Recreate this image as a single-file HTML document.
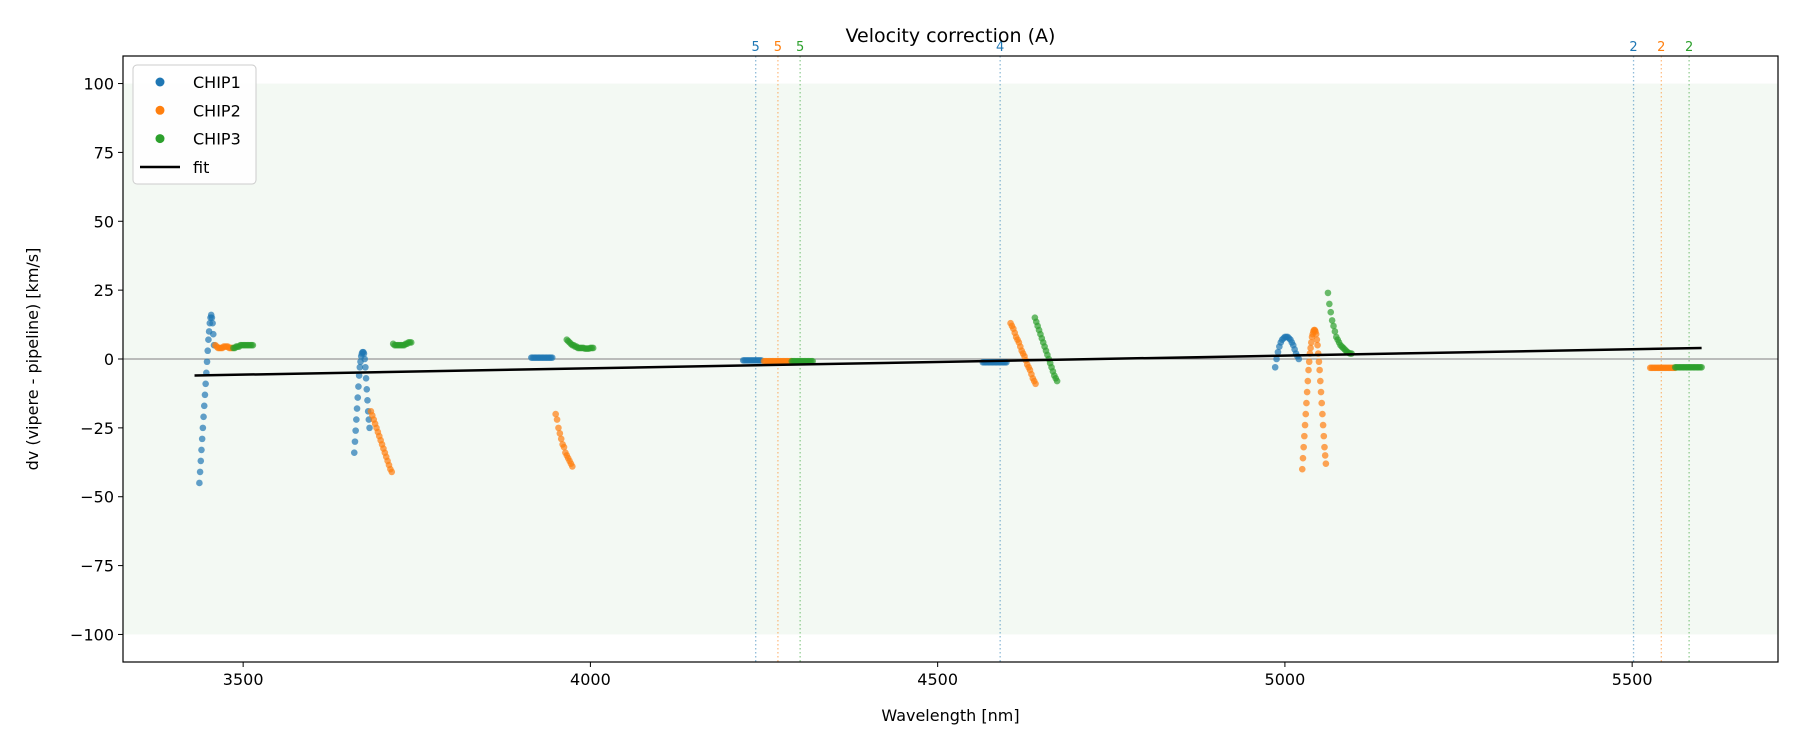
<!DOCTYPE html>
<html><head><meta charset="utf-8">
<style>
body{margin:0;background:#fff;}
svg{display:block;font-family:"DejaVu Sans","Liberation Sans",sans-serif;}
</style></head>
<body>
<svg id="chart" width="1800" height="750" viewBox="0 0 1800 750"></svg>
<script>
const xTicks=[3500,4000,4500,5000,5500];
const yTicks=[-100,-75,-50,-25,0,25,50,75,100];
const yTickLabels=["−100","−75","−50","−25","0","25","50","75","100"];
const colors=["#1f77b4","#ff7f0e","#2ca02c"];
const seriesNames=["CHIP1","CHIP2","CHIP3"];
// segments: chip index, wavelengths, dv
const segChip=[0,1,2, 0,1,2, 0,1,2, 0,1,2, 0,1,2, 0,1,2, 1,2];
const segWl=[
[3437,3438,3439,3440,3441,3442,3443,3444,3445,3446,3447,3448,3449,3450,3451,3452,3453,3454,3455,3456,3457,3458],
[3460,3462,3464,3466,3468,3470,3472,3474,3476,3478,3480,3482,3484],
[3486,3488,3490,3492,3494,3496,3498,3500,3502,3504,3506,3508,3510,3512,3514],
[3660,3661,3662,3663,3664,3665,3666,3667,3668,3669,3670,3671,3672,3673,3674,3675,3676,3677,3678,3679,3680,3681,3682],
[3684,3686,3688,3690,3692,3694,3696,3698,3700,3702,3704,3706,3708,3710,3712,3714],
[3716,3718,3720,3722,3724,3726,3728,3730,3732,3734,3736,3738,3740,3742],
[3915,3917,3919,3921,3923,3925,3927,3929,3931,3933,3935,3937,3939,3941,3943,3945],
[3950,3952,3954,3956,3958,3960,3962,3964,3966,3968,3970,3972,3974],
[3966,3968,3970,3972,3974,3976,3978,3980,3982,3984,3986,3988,3990,3992,3994,3996,3998,4000,4002,4004],
[4220,4222,4224,4226,4228,4230,4232,4234,4236,4238,4240,4242,4244,4246],
[4250,4252,4254,4256,4258,4260,4262,4264,4266,4268,4270,4272,4274,4276,4278,4280,4282,4284,4286,4288,4290],
[4290,4292,4294,4296,4298,4300,4302,4304,4306,4308,4310,4312,4314,4316,4318,4320],
[4565,4567,4569,4571,4573,4575,4577,4579,4581,4583,4585,4587,4589,4591,4593,4595,4597,4599],
[4605,4607,4609,4611,4613,4615,4617,4619,4621,4623,4625,4627,4629,4631,4633,4635,4637,4639,4641],
[4640,4642,4644,4646,4648,4650,4652,4654,4656,4658,4660,4662,4664,4666,4668,4670,4672],
[4986,4988,4990,4992,4994,4996,4998,5000,5002,5004,5006,5008,5010,5012,5014,5016,5018,5020],
[5025,5026,5027,5028,5029,5030,5031,5032,5033,5034,5035,5036,5037,5038,5039,5040,5041,5042,5043,5044,5045,5046,5047,5048,5049,5050,5051,5052,5053,5054,5055,5056,5057,5058,5059],
[5062,5064,5066,5068,5070,5072,5074,5076,5078,5080,5082,5084,5086,5088,5090,5092,5094,5096],
[5526,5528,5530,5532,5534,5536,5538,5540,5542,5544,5546,5548,5550,5552,5554,5556,5558,5560,5562],
[5562,5564,5566,5568,5570,5572,5574,5576,5578,5580,5582,5584,5586,5588,5590,5592,5594,5596,5598,5600]
];
const segDv=[
[-45,-41,-37,-33,-29,-25,-21,-17,-13,-9,-5,-1,3,7,10,13,15,16,15,13,9,5],
[5,4.5,4,4,4,4,4.5,4.5,4.5,4.5,4,4,4],
[4,4,4.5,4.5,4.5,5,5,5,5,5,5,5,5,5,5],
[-34,-30,-26,-22,-18,-14,-10,-6,-3,-1,1,2,2.5,2.5,2,0,-3,-7,-11,-15,-19,-22,-25],
[-19,-20.5,-22,-23.5,-25,-26.5,-28,-29.5,-31,-32.5,-34,-35.5,-37,-38.5,-40,-41],
[5.5,5,5,5,5,5,5,5,5,5.5,5.5,6,6,6],
[0.5,0.5,0.5,0.5,0.5,0.5,0.5,0.5,0.5,0.5,0.5,0.5,0.5,0.5,0.5,0.5],
[-20,-22,-25,-27,-29,-31,-32,-34,-35,-36,-37,-38,-39],
[7,6.5,6,5.5,5,5,4.5,4.5,4,4,4,4,4,3.8,3.8,3.8,3.8,4,4,4],
[-0.5,-0.5,-0.5,-0.5,-0.5,-0.5,-0.5,-0.5,-0.5,-0.5,-0.5,-0.5,-0.5,-0.5],
[-0.8,-0.8,-0.8,-0.8,-0.8,-0.8,-0.8,-0.8,-0.8,-0.8,-0.8,-0.8,-0.8,-0.8,-0.8,-0.8,-0.8,-0.8,-0.8,-0.8,-0.8],
[-0.8,-0.8,-0.8,-0.8,-0.8,-0.8,-0.8,-0.8,-0.8,-0.8,-0.8,-0.8,-0.8,-0.8,-0.8,-0.8],
[-1.2,-1.2,-1.2,-1.2,-1.2,-1.2,-1.2,-1.2,-1.2,-1.2,-1.2,-1.2,-1.2,-1.2,-1.2,-1.2,-1.2,-1.2],
[13,12,11,9.5,8,7,6,4.5,3,2,1,-0.5,-2,-3,-4,-5.5,-7,-8,-9],
[15,13.5,12,10.5,9,7.5,6,4.5,3,1.5,0,-1.5,-3,-4.5,-6,-7,-8],
[-3,0,2.5,4.5,6,7,7.5,8,8,8,7.5,7,6,5,3.5,2,1,0],
[-40,-36,-32,-28,-24,-20,-16,-12,-8,-4,-1,2,4,6,8,9,10,10.5,10.5,10,9,7,5,2,-1,-4,-8,-12,-16,-20,-24,-28,-32,-35,-38],
[24,20,17,14,12,10,8,7,6,5,4.5,4,3.5,3,2.5,2.2,2,2],
[-3.2,-3.2,-3.2,-3.2,-3.2,-3.2,-3.2,-3.2,-3.2,-3.2,-3.2,-3.2,-3.2,-3.2,-3.2,-3.2,-3.2,-3.2,-3.2],
[-3,-3,-3,-3,-3,-3,-3,-3,-3,-3,-3,-3,-3,-3,-3,-3,-3,-3,-3,-3]
];
const fitWl=[3430,5600];
const fitDv=[-6,4];
const vlineWl=[4238,4270,4302,4590,5502,5542,5582];
const vlineChip=[0,1,2,0,0,1,2];
const vlineLabels=["5","5","5","4","2","2","2"];

const L=123,R=1778,T=56,B=662;
const xMin=3327,xMax=5710,yMin=-110,yMax=110;
const X=w=>L+(w-xMin)/(xMax-xMin)*(R-L);
const Y=v=>B-(v-yMin)/(yMax-yMin)*(B-T);
const svg=document.getElementById('chart');
const NS="http://www.w3.org/2000/svg";
function mk(tag,attrs,parent){const e=document.createElementNS(NS,tag);for(const k in attrs)e.setAttribute(k,attrs[k]);(parent||svg).appendChild(e);return e;}

// band
let band=mk('rect',{x:L,y:Y(100),width:R-L,height:Y(-100)-Y(100),fill:'#2ca02c','fill-opacity':0.06});


// zero line
let zl=mk('line',{x1:L,x2:R,y1:Y(0),y2:Y(0),stroke:'#808080','stroke-width':1});


// vlines
vlineWl.forEach((w,i)=>{
  const g=mk('g',{});
  
  
  mk('line',{x1:X(w),x2:X(w),y1:T,y2:B,stroke:colors[vlineChip[i]],'stroke-opacity':0.5,'stroke-width':1.3,'stroke-dasharray':'1.5,2.5'},g);
  const t=mk('text',{x:X(w),y:T-5,'text-anchor':'middle','font-size':13,fill:colors[vlineChip[i]]},g);
  t.textContent=vlineLabels[i];
});
// points
segWl.forEach((ws,s)=>{
  const g=mk('g',{fill:colors[segChip[s]],'fill-opacity':0.7});
  
  
  ws.forEach((w,i)=>{
    const c=mk('circle',{cx:X(w),cy:Y(segDv[s][i]),r:3.3},g);
    
    
  });
});
// fit
let fit=mk('line',{x1:X(fitWl[0]),y1:Y(fitDv[0]),x2:X(fitWl[1]),y2:Y(fitDv[1]),stroke:'#000','stroke-width':2.5});


// frame
let fr=mk('rect',{x:L,y:T,width:R-L,height:B-T,fill:'none',stroke:'#000','stroke-width':1.2});


// x ticks
xTicks.forEach(v=>{
  const g=mk('g',{});
  
  
  mk('line',{x1:X(v),x2:X(v),y1:B,y2:B+5,stroke:'#000','stroke-width':1},g);
  const t=mk('text',{x:X(v),y:B+23,'text-anchor':'middle','font-size':16},g);t.textContent=v;
});
yTicks.forEach((v,i)=>{
  const g=mk('g',{});
  
  
  mk('line',{x1:L-5,x2:L,y1:Y(v),y2:Y(v),stroke:'#000','stroke-width':1},g);
  const t=mk('text',{x:L-9,y:Y(v)+6,'text-anchor':'end','font-size':16},g);t.textContent=yTickLabels[i];
});
let xt=mk('text',{x:(L+R)/2,y:721,'text-anchor':'middle','font-size':16});xt.textContent='Wavelength [nm]';

let yt=mk('text',{x:0,y:0,'text-anchor':'middle','font-size':16,transform:`translate(38,${(T+B)/2}) rotate(-90)`});yt.textContent='dv (vipere - pipeline) [km/s]';

let tt=mk('text',{x:(L+R)/2,y:42,'text-anchor':'middle','font-size':19});tt.textContent='Velocity correction (A)';

// legend
const lg=mk('g',{});


mk('rect',{x:133,y:65,width:123,height:119,rx:4,fill:'#fff','fill-opacity':0.85,stroke:'#ccc','stroke-width':1},lg);
seriesNames.forEach((n,i)=>{
  const e=mk('g',{},lg);
  
  
  mk('circle',{cx:160,cy:82+i*28.3,r:4.5,fill:colors[i]},e);
  const t=mk('text',{x:193,y:88+i*28.3,'font-size':16},e);t.textContent=n;
});
const fe=mk('g',{},lg);


mk('line',{x1:140,x2:180,y1:167,y2:167,stroke:'#000','stroke-width':2.5},fe);
const ft=mk('text',{x:193,y:173,'font-size':16},fe);ft.textContent='fit';
</script>
</body></html>
